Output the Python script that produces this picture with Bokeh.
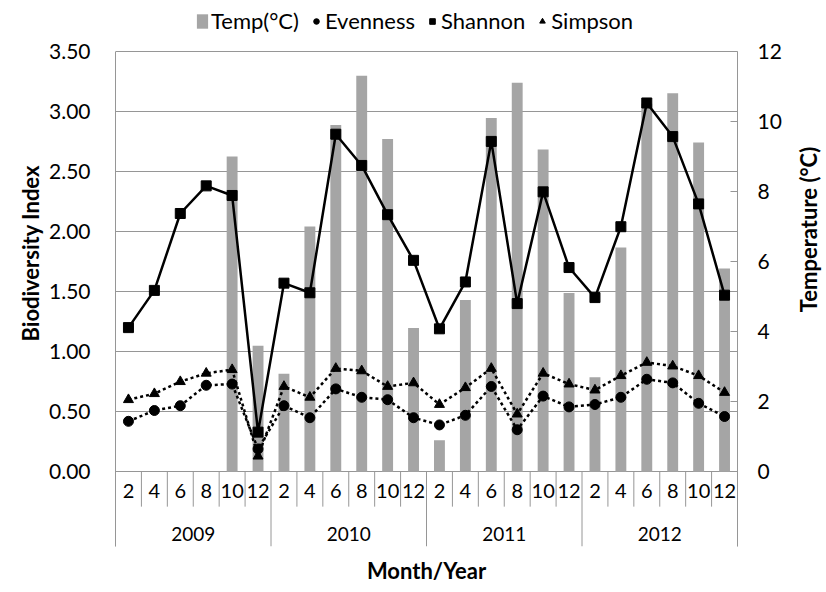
import math
import numpy as np
from bokeh.plotting import figure
from bokeh.models import (FactorRange, Range1d, LinearAxis, FixedTicker, NumeralTickFormatter,
                          Legend, LegendItem, ColumnDataSource, Title, Label)
from bokeh.embed import file_html
from bokeh.resources import INLINE
from bokeh.core.properties import value

# ---- data ----
years = ["2009", "2010", "2011", "2012"]
months = ["2", "4", "6", "8", "10", "12"]

temp_c = [None, None, None, None, 9.0, 3.6,
          2.8, 7.0, 9.9, 11.3, 9.5, 4.1,
          0.9, 4.9, 10.1, 11.1, 9.2, 5.1,
          2.7, 6.4, 10.5, 10.8, 9.4, 5.8]
shannon = [1.20, 1.51, 2.15, 2.38, 2.30, 0.33,
           1.57, 1.49, 2.81, 2.55, 2.14, 1.76,
           1.19, 1.58, 2.75, 1.40, 2.33, 1.70,
           1.45, 2.04, 3.07, 2.79, 2.23, 1.47]
simpson = [0.60, 0.65, 0.75, 0.82, 0.85, 0.13,
           0.71, 0.62, 0.86, 0.84, 0.71, 0.74,
           0.56, 0.70, 0.86, 0.48, 0.82, 0.73,
           0.68, 0.80, 0.91, 0.88, 0.80, 0.66]
evenness = [0.42, 0.51, 0.55, 0.72, 0.73, 0.19,
            0.55, 0.45, 0.69, 0.62, 0.60, 0.45,
            0.39, 0.47, 0.71, 0.35, 0.63, 0.54,
            0.56, 0.62, 0.77, 0.74, 0.57, 0.46]

left_ticks = [0.0, 0.5, 1.0, 1.5, 2.0, 2.5, 3.0, 3.5]
right_ticks = [0, 2, 4, 6, 8, 10, 12]
LEFT_MAX, RIGHT_MAX = 3.5, 12

# ---- styling / layout constants (pixels) ----
FONT = "Lato"
GRID = "#969696"
BAR = "#a5a5a5"
W, H = 826, 592
TOP_PX = 51        # space above the plotting area (legend lives here)
PLOT_PX = 422      # height of the plotting area (0 .. max)
TABLE_PX = 75      # category table below the plotting area
BOTTOM_PX = 44
MONTH_ROW_PX = 35  # depth of month separators
MONTH_TXT_PX = 19
YEAR_TXT_PX = 62

u = LEFT_MAX / PLOT_PX          # left-axis units per pixel
ut = RIGHT_MAX / PLOT_PX        # right-axis units per pixel

factors = [(y, m) for y in years for m in months]
src = ColumnDataSource(dict(
    x=factors,
    temp=np.array([np.nan if v is None else v for v in temp_c], dtype=float),
    shannon=shannon, simpson=simpson, evenness=evenness,
))

xr = FactorRange(*factors, group_padding=0, range_padding=0)

p = figure(x_range=xr, y_range=Range1d(-TABLE_PX * u, LEFT_MAX + TOP_PX * u),
           width=W, height=H, output_backend="svg", toolbar_location=None,
           x_axis_location=None,
           min_border_left=115, min_border_right=89, min_border_top=0,
           min_border_bottom=BOTTOM_PX)
p.extra_y_ranges = {"temp": Range1d(-TABLE_PX * ut, RIGHT_MAX + TOP_PX * ut)}
p.outline_line_color = None
p.background_fill_color = "white"
p.border_fill_color = "white"

lt = FixedTicker(ticks=left_ticks)
for g in p.grid:
    if g.dimension == 0:
        g.visible = False
    else:
        g.ticker = lt
        g.grid_line_color = GRID
        g.grid_line_width = 1

ya = p.yaxis[0]
ya.ticker = lt
ya.bounds = (-TABLE_PX * u, LEFT_MAX)
ya.formatter = NumeralTickFormatter(format="0.00")
ya.major_tick_in = 0
ya.major_tick_out = 0
ya.minor_tick_line_color = None
ya.axis_line_color = GRID
ya.major_label_standoff = 25
ya.major_label_text_font = FONT
ya.major_label_text_font_size = "21px"
ya.major_label_text_color = "black"

ra = LinearAxis(y_range_name="temp", ticker=FixedTicker(ticks=right_ticks),
                bounds=(-TABLE_PX * ut, RIGHT_MAX))
ra.major_tick_in = 7
ra.major_tick_out = 0
ra.major_tick_line_color = GRID
ra.minor_tick_line_color = None
ra.axis_line_color = GRID
ra.major_label_standoff = 20
ra.major_label_text_font = FONT
ra.major_label_text_font_size = "21px"
ra.major_label_text_color = "black"
p.add_layout(ra, "right")

bars = p.vbar(x="x", top="temp", width=0.42, source=src, y_range_name="temp",
              fill_color=BAR, line_color=None)

p.line(x="x", y="evenness", source=src, line_color="black", line_width=2.5,
       line_dash="3 3")
p.line(x="x", y="simpson", source=src, line_color="black", line_width=2.5,
       line_dash="3 3")
p.line(x="x", y="shannon", source=src, line_color="black", line_width=2.5)

ev = p.scatter(x="x", y="evenness", source=src, marker="circle", size=10,
               fill_color="black", line_color="black")
si = p.scatter(x="x", y="simpson", source=src, marker="triangle", size=10,
               fill_color="black", line_color="black")
sh = p.scatter(x="x", y="shannon", source=src, marker="square", size=10,
               fill_color="black", line_color="black")

legend = Legend(items=[
    LegendItem(label="Temp(°C)", renderers=[bars]),
    LegendItem(label="Evenness", renderers=[ev]),
    LegendItem(label="Shannon", renderers=[sh]),
    LegendItem(label="Simpson", renderers=[si]),
], orientation="horizontal", location=(80, H - BOTTOM_PX - 36))
legend.border_line_color = None
legend.background_fill_alpha = 0
legend.label_text_font = FONT
legend.label_text_font_size = "22px"
legend.label_text_color = "black"
legend.glyph_width = 14
legend.glyph_height = 18
legend.label_standoff = 2
legend.spacing = 10
legend.padding = 0
legend.margin = 0
p.add_layout(legend, "center")

# ---- category table (month / year) below the plotting area ----
month_sep = [(y, m, -0.5) for y in years for m in months[1:]]
year_sep = [(y, months[0], -0.5) for y in years] + [(years[-1], months[-1], 0.5)]
p.segment(x0=month_sep, x1=month_sep, y0=0, y1=-MONTH_ROW_PX * u,
          line_color=GRID, line_width=1)
p.segment(x0=year_sep, x1=year_sep, y0=0, y1=-TABLE_PX * u,
          line_color=GRID, line_width=1)

p.text(x=factors, y=-MONTH_TXT_PX * u, text=[m for (_, m) in factors],
       text_font=value(FONT), text_font_size=value("20px"), text_align="center",
       text_baseline="middle", text_color="black")
p.text(x=years, y=-YEAR_TXT_PX * u, text=years, text_font=value(FONT),
       text_font_size=value("19px"), text_align="center", text_baseline="middle",
       text_color="black")

p.add_layout(Title(text="Month/Year", align="center", text_font=FONT,
                   text_font_size="22px", text_font_style="bold",
                   text_color="black", standoff=17), "below")

# left axis title, positioned along the panel with an offset from its bottom
p.add_layout(Title(text="Biodiversity Index", align="left", offset=205,
                   vertical_align="middle", text_font=FONT, text_font_size="22px",
                   text_font_style="bold", text_color="black", standoff=4), "left")

# right axis title, reading upwards like the reference
p.add_layout(Label(text="Temperature (°C)", x=24, y=H - BOTTOM_PX - 231,
                   x_units="screen", y_units="screen", angle=math.pi / 2,
                   text_align="center", text_baseline="middle", text_font=FONT,
                   text_font_size="22px", text_font_style="bold",
                   text_color="black"), "right")

open("out.html", "w").write(file_html(p, INLINE))
